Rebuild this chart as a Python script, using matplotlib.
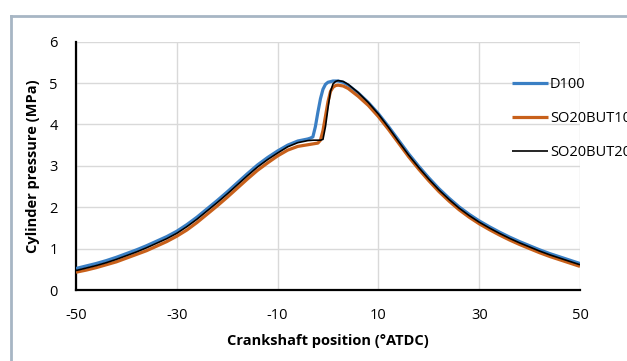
import matplotlib
matplotlib.use("Agg")
import matplotlib.pyplot as plt
from matplotlib.lines import Line2D

# crank angle samples (°ATDC)
crank_comp = [-50, -48, -46, -44, -42, -40, -38, -36, -34, -32, -30, -28, -26, -24,
              -22, -20, -18, -16, -14, -12, -10, -8, -6, -4]
crank_exp = [4, 6, 8, 10, 12, 14, 16, 18, 20, 22, 24, 26, 28, 30, 32, 34, 36, 38, 40,
             42, 44, 46, 48, 50]

crank_d100_mid = [-3.5, -3, -2.5, -2, -1.5, -1, -0.5, 0, 1, 2, 3]
crank_b10_mid = [-3, -2, -1.5, -1, -0.5, 0, 0.5, 1, 1.5, 2, 3]
crank_b20_mid = [-3, -2, -1.5, -1, -0.5, 0, 0.5, 1, 1.5, 2, 3]

# cylinder pressure (MPa)
p_d100_comp = [0.52, 0.58, 0.64, 0.71, 0.79, 0.88, 0.97, 1.07, 1.18, 1.29, 1.42, 1.58,
               1.76, 1.96, 2.16, 2.37, 2.59, 2.81, 3.02, 3.20, 3.36, 3.50, 3.60, 3.65]
p_d100_mid = [3.67, 3.70, 3.95, 4.30, 4.62, 4.85, 4.97, 5.02, 5.05, 5.05, 5.02]
p_d100_exp = [4.95, 4.76, 4.53, 4.26, 3.95, 3.62, 3.29, 2.99, 2.71, 2.45, 2.22, 2.01,
              1.83, 1.67, 1.53, 1.40, 1.28, 1.17, 1.07, 0.97, 0.88, 0.80, 0.72, 0.64]

p_b10_comp = [0.43, 0.48, 0.54, 0.61, 0.68, 0.77, 0.86, 0.95, 1.06, 1.17, 1.30, 1.45,
              1.63, 1.83, 2.03, 2.24, 2.46, 2.68, 2.89, 3.07, 3.24, 3.38, 3.47, 3.51]
p_b10_mid = [3.53, 3.55, 3.62, 3.85, 4.20, 4.55, 4.80, 4.90, 4.94, 4.95, 4.93]
p_b10_exp = [4.87, 4.68, 4.46, 4.19, 3.88, 3.55, 3.22, 2.92, 2.64, 2.38, 2.15, 1.94,
             1.76, 1.60, 1.46, 1.33, 1.21, 1.10, 1.00, 0.90, 0.81, 0.73, 0.65, 0.57]

p_b20_comp = [0.47, 0.53, 0.59, 0.66, 0.74, 0.83, 0.92, 1.02, 1.13, 1.24, 1.37, 1.53,
              1.71, 1.91, 2.11, 2.32, 2.54, 2.76, 2.97, 3.15, 3.31, 3.46, 3.56, 3.61]
p_b20_mid = [3.62, 3.62, 3.62, 3.64, 3.95, 4.40, 4.80, 4.98, 5.04, 5.06, 5.04]
p_b20_exp = [4.97, 4.77, 4.53, 4.25, 3.93, 3.59, 3.26, 2.96, 2.68, 2.42, 2.19, 1.98,
             1.80, 1.64, 1.50, 1.37, 1.25, 1.14, 1.04, 0.94, 0.85, 0.77, 0.69, 0.61]

series_labels = ["D100", "SO20BUT10", "SO20BUT20"]
x_ticks = [-50, -30, -10, 10, 30, 50]
y_ticks = [0, 1, 2, 3, 4, 5, 6]

plt.rcParams['font.family'] = ['Open Sans', 'DejaVu Sans']
plt.rcParams['axes.unicode_minus'] = False

fig = plt.figure(figsize=(6.27, 3.61), dpi=100)
ax = fig.add_axes([76/627, 1 - 290/361, (580-76)/627, (290-41.7)/361])

series = [
    (crank_comp + crank_d100_mid + crank_exp, p_d100_comp + p_d100_mid + p_d100_exp,
     '#3A7FC4', 2.3, 3),
    (crank_comp + crank_b10_mid + crank_exp, p_b10_comp + p_b10_mid + p_b10_exp,
     '#C8601A', 2.3, 3),
    (crank_comp + crank_b20_mid + crank_exp, p_b20_comp + p_b20_mid + p_b20_exp,
     'black', 1.2, 4),
]
for (xs, ys, c, lw, z), lab in zip(series, series_labels):
    ax.plot(xs, ys, color=c, lw=lw, label=lab, solid_joinstyle='round',
            solid_capstyle='butt', zorder=z)

ax.set_xlim(-50, 50)
ax.set_ylim(0, 6)
ax.set_xticks(x_ticks)
ax.set_yticks(y_ticks)
ax.grid(True, color='#D9D9D9', lw=1.0)
ax.set_axisbelow(True)
for s in ['top', 'right']:
    ax.spines[s].set_visible(False)
for s in ['left', 'bottom']:
    ax.spines[s].set_linewidth(1.6)
    ax.spines[s].set_color('black')
ax.tick_params(length=0, labelsize=10.5)
ax.tick_params(axis='x', pad=13)
ax.tick_params(axis='y', pad=13)

ax.set_xlabel("Crankshaft position (°ATDC)", fontsize=10.5, fontweight='bold', labelpad=8)
ax.set_ylabel("Cylinder pressure (MPa)", fontsize=10.5, fontweight='bold', labelpad=7)

leg = ax.legend(loc='upper left', bbox_to_anchor=(512/627, 1 - 77/361),
                bbox_transform=fig.transFigure, frameon=False, fontsize=10.5,
                handlelength=2.5, handletextpad=0.1, labelspacing=1.3,
                borderpad=0, borderaxespad=0)

# outer chart-area frame (top and left edges visible)
fig.add_artist(Line2D([10.5/627, 1.0], [1 - 15.5/361, 1 - 15.5/361],
                      transform=fig.transFigure, color='#A7B6C4', lw=2.0))
fig.add_artist(Line2D([10.5/627, 10.5/627], [0, 1 - 15.5/361],
                      transform=fig.transFigure, color='#A7B6C4', lw=2.0))

fig.savefig("out.png", dpi=100)
